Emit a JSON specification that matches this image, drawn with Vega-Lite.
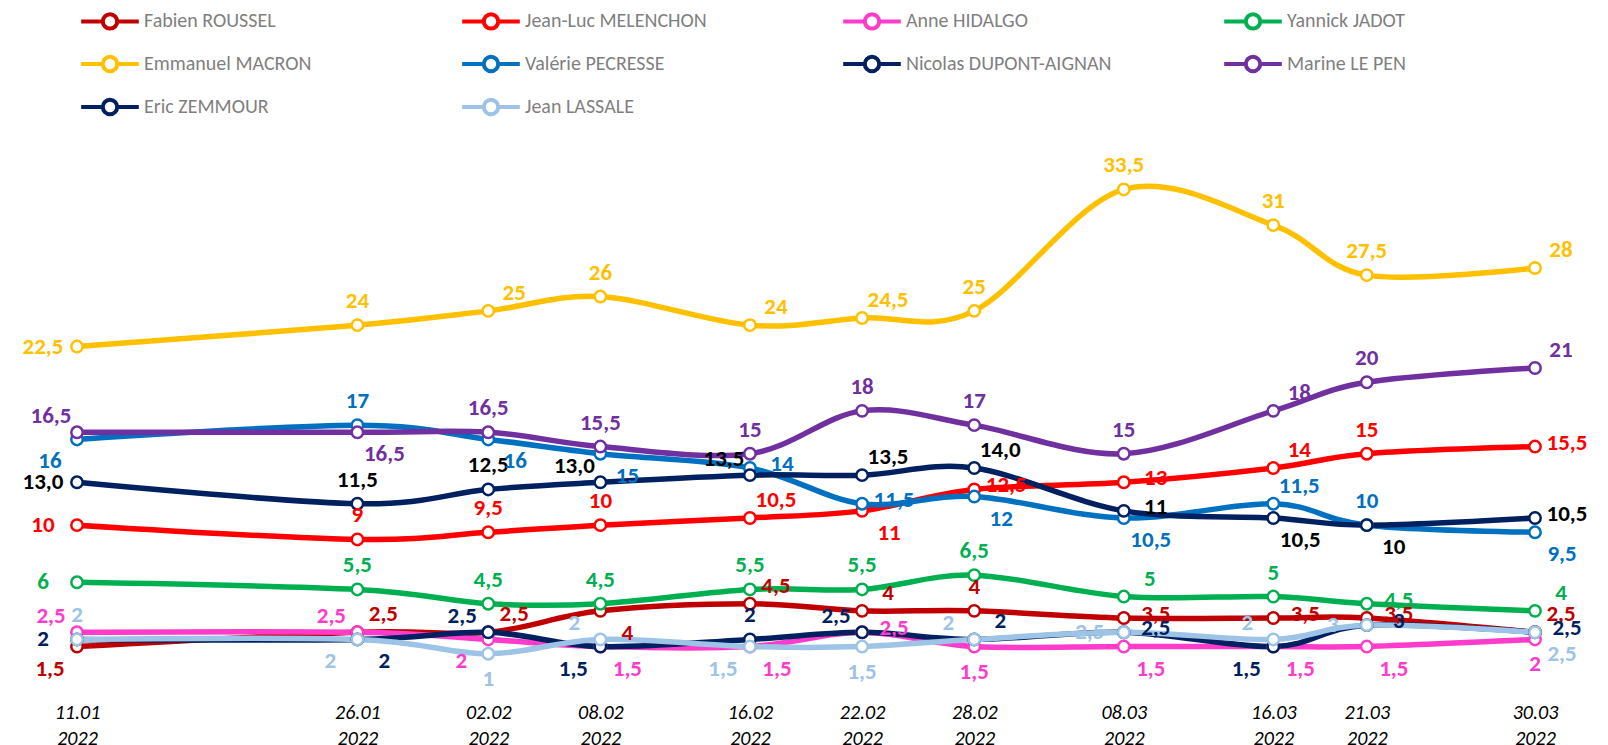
{
  "$schema": "https://vega.github.io/schema/vega-lite/v6.json",
  "width": 1458,
  "height": 500,
  "autosize": "none",
  "padding": {"left": 77, "top": 168, "right": 73, "bottom": 77},
  "background": "white",
  "config": {"view": {"stroke": null}, "font": "Carlito, Lato", "text": {"font": "Carlito, Lato"}},
  "data": {
    "format": {"parse": {"d": "utc:'%Y-%m-%d'"}},
    "values": [
      {"c":"Fabien ROUSSEL","d":"2022-01-11","v":1.5,"t":"1,5"},
      {"c":"Fabien ROUSSEL","d":"2022-01-26","v":2.5,"t":"2,5"},
      {"c":"Fabien ROUSSEL","d":"2022-02-02","v":2.5,"t":"2,5"},
      {"c":"Fabien ROUSSEL","d":"2022-02-08","v":4,"t":"4"},
      {"c":"Fabien ROUSSEL","d":"2022-02-16","v":4.5,"t":"4,5"},
      {"c":"Fabien ROUSSEL","d":"2022-02-22","v":4,"t":"4"},
      {"c":"Fabien ROUSSEL","d":"2022-02-28","v":4,"t":"4"},
      {"c":"Fabien ROUSSEL","d":"2022-03-08","v":3.5,"t":"3,5"},
      {"c":"Fabien ROUSSEL","d":"2022-03-16","v":3.5,"t":"3,5"},
      {"c":"Fabien ROUSSEL","d":"2022-03-21","v":3.5,"t":"3,5"},
      {"c":"Fabien ROUSSEL","d":"2022-03-30","v":2.5,"t":"2,5"},
      {"c":"Jean-Luc MELENCHON","d":"2022-01-11","v":10,"t":"10"},
      {"c":"Jean-Luc MELENCHON","d":"2022-01-26","v":9,"t":"9"},
      {"c":"Jean-Luc MELENCHON","d":"2022-02-02","v":9.5,"t":"9,5"},
      {"c":"Jean-Luc MELENCHON","d":"2022-02-08","v":10,"t":"10"},
      {"c":"Jean-Luc MELENCHON","d":"2022-02-16","v":10.5,"t":"10,5"},
      {"c":"Jean-Luc MELENCHON","d":"2022-02-22","v":11,"t":"11"},
      {"c":"Jean-Luc MELENCHON","d":"2022-02-28","v":12.5,"t":"12,5"},
      {"c":"Jean-Luc MELENCHON","d":"2022-03-08","v":13,"t":"13"},
      {"c":"Jean-Luc MELENCHON","d":"2022-03-16","v":14,"t":"14"},
      {"c":"Jean-Luc MELENCHON","d":"2022-03-21","v":15,"t":"15"},
      {"c":"Jean-Luc MELENCHON","d":"2022-03-30","v":15.5,"t":"15,5"},
      {"c":"Anne HIDALGO","d":"2022-01-11","v":2.5,"t":"2,5"},
      {"c":"Anne HIDALGO","d":"2022-01-26","v":2.5,"t":"2,5"},
      {"c":"Anne HIDALGO","d":"2022-02-02","v":2,"t":"2"},
      {"c":"Anne HIDALGO","d":"2022-02-08","v":1.5,"t":"1,5"},
      {"c":"Anne HIDALGO","d":"2022-02-16","v":1.5,"t":"1,5"},
      {"c":"Anne HIDALGO","d":"2022-02-22","v":2.5,"t":"2,5"},
      {"c":"Anne HIDALGO","d":"2022-02-28","v":1.5,"t":"1,5"},
      {"c":"Anne HIDALGO","d":"2022-03-08","v":1.5,"t":"1,5"},
      {"c":"Anne HIDALGO","d":"2022-03-16","v":1.5,"t":"1,5"},
      {"c":"Anne HIDALGO","d":"2022-03-21","v":1.5,"t":"1,5"},
      {"c":"Anne HIDALGO","d":"2022-03-30","v":2,"t":"2"},
      {"c":"Yannick JADOT","d":"2022-01-11","v":6,"t":"6"},
      {"c":"Yannick JADOT","d":"2022-01-26","v":5.5,"t":"5,5"},
      {"c":"Yannick JADOT","d":"2022-02-02","v":4.5,"t":"4,5"},
      {"c":"Yannick JADOT","d":"2022-02-08","v":4.5,"t":"4,5"},
      {"c":"Yannick JADOT","d":"2022-02-16","v":5.5,"t":"5,5"},
      {"c":"Yannick JADOT","d":"2022-02-22","v":5.5,"t":"5,5"},
      {"c":"Yannick JADOT","d":"2022-02-28","v":6.5,"t":"6,5"},
      {"c":"Yannick JADOT","d":"2022-03-08","v":5,"t":"5"},
      {"c":"Yannick JADOT","d":"2022-03-16","v":5,"t":"5"},
      {"c":"Yannick JADOT","d":"2022-03-21","v":4.5,"t":"4,5"},
      {"c":"Yannick JADOT","d":"2022-03-30","v":4,"t":"4"},
      {"c":"Emmanuel MACRON","d":"2022-01-11","v":22.5,"t":"22,5"},
      {"c":"Emmanuel MACRON","d":"2022-01-26","v":24,"t":"24"},
      {"c":"Emmanuel MACRON","d":"2022-02-02","v":25,"t":"25"},
      {"c":"Emmanuel MACRON","d":"2022-02-08","v":26,"t":"26"},
      {"c":"Emmanuel MACRON","d":"2022-02-16","v":24,"t":"24"},
      {"c":"Emmanuel MACRON","d":"2022-02-22","v":24.5,"t":"24,5"},
      {"c":"Emmanuel MACRON","d":"2022-02-28","v":25,"t":"25"},
      {"c":"Emmanuel MACRON","d":"2022-03-08","v":33.5,"t":"33,5"},
      {"c":"Emmanuel MACRON","d":"2022-03-16","v":31,"t":"31"},
      {"c":"Emmanuel MACRON","d":"2022-03-21","v":27.5,"t":"27,5"},
      {"c":"Emmanuel MACRON","d":"2022-03-30","v":28,"t":"28"},
      {"c":"Valérie PECRESSE","d":"2022-01-11","v":16,"t":"16"},
      {"c":"Valérie PECRESSE","d":"2022-01-26","v":17,"t":"17"},
      {"c":"Valérie PECRESSE","d":"2022-02-02","v":16,"t":"16"},
      {"c":"Valérie PECRESSE","d":"2022-02-08","v":15,"t":"15"},
      {"c":"Valérie PECRESSE","d":"2022-02-16","v":14,"t":"14"},
      {"c":"Valérie PECRESSE","d":"2022-02-22","v":11.5,"t":"11,5"},
      {"c":"Valérie PECRESSE","d":"2022-02-28","v":12,"t":"12"},
      {"c":"Valérie PECRESSE","d":"2022-03-08","v":10.5,"t":"10,5"},
      {"c":"Valérie PECRESSE","d":"2022-03-16","v":11.5,"t":"11,5"},
      {"c":"Valérie PECRESSE","d":"2022-03-21","v":10,"t":"10"},
      {"c":"Valérie PECRESSE","d":"2022-03-30","v":9.5,"t":"9,5"},
      {"c":"Nicolas DUPONT-AIGNAN","d":"2022-01-11","v":2,"t":"2"},
      {"c":"Nicolas DUPONT-AIGNAN","d":"2022-01-26","v":2,"t":"2"},
      {"c":"Nicolas DUPONT-AIGNAN","d":"2022-02-02","v":2.5,"t":"2,5"},
      {"c":"Nicolas DUPONT-AIGNAN","d":"2022-02-08","v":1.5,"t":"1,5"},
      {"c":"Nicolas DUPONT-AIGNAN","d":"2022-02-16","v":2,"t":"2"},
      {"c":"Nicolas DUPONT-AIGNAN","d":"2022-02-22","v":2.5,"t":"2,5"},
      {"c":"Nicolas DUPONT-AIGNAN","d":"2022-02-28","v":2,"t":"2"},
      {"c":"Nicolas DUPONT-AIGNAN","d":"2022-03-08","v":2.5,"t":"2,5"},
      {"c":"Nicolas DUPONT-AIGNAN","d":"2022-03-16","v":1.5,"t":"1,5"},
      {"c":"Nicolas DUPONT-AIGNAN","d":"2022-03-21","v":3,"t":"3"},
      {"c":"Nicolas DUPONT-AIGNAN","d":"2022-03-30","v":2.5,"t":"2,5"},
      {"c":"Marine LE PEN","d":"2022-01-11","v":16.5,"t":"16,5"},
      {"c":"Marine LE PEN","d":"2022-01-26","v":16.5,"t":"16,5"},
      {"c":"Marine LE PEN","d":"2022-02-02","v":16.5,"t":"16,5"},
      {"c":"Marine LE PEN","d":"2022-02-08","v":15.5,"t":"15,5"},
      {"c":"Marine LE PEN","d":"2022-02-16","v":15,"t":"15"},
      {"c":"Marine LE PEN","d":"2022-02-22","v":18,"t":"18"},
      {"c":"Marine LE PEN","d":"2022-02-28","v":17,"t":"17"},
      {"c":"Marine LE PEN","d":"2022-03-08","v":15,"t":"15"},
      {"c":"Marine LE PEN","d":"2022-03-16","v":18,"t":"18"},
      {"c":"Marine LE PEN","d":"2022-03-21","v":20,"t":"20"},
      {"c":"Marine LE PEN","d":"2022-03-30","v":21,"t":"21"},
      {"c":"Eric ZEMMOUR","d":"2022-01-11","v":13,"t":"13,0"},
      {"c":"Eric ZEMMOUR","d":"2022-01-26","v":11.5,"t":"11,5"},
      {"c":"Eric ZEMMOUR","d":"2022-02-02","v":12.5,"t":"12,5"},
      {"c":"Eric ZEMMOUR","d":"2022-02-08","v":13,"t":"13,0"},
      {"c":"Eric ZEMMOUR","d":"2022-02-16","v":13.5,"t":"13,5"},
      {"c":"Eric ZEMMOUR","d":"2022-02-22","v":13.5,"t":"13,5"},
      {"c":"Eric ZEMMOUR","d":"2022-02-28","v":14,"t":"14,0"},
      {"c":"Eric ZEMMOUR","d":"2022-03-08","v":11,"t":"11"},
      {"c":"Eric ZEMMOUR","d":"2022-03-16","v":10.5,"t":"10,5"},
      {"c":"Eric ZEMMOUR","d":"2022-03-21","v":10,"t":"10"},
      {"c":"Eric ZEMMOUR","d":"2022-03-30","v":10.5,"t":"10,5"},
      {"c":"Jean LASSALE","d":"2022-01-11","v":2,"t":"2"},
      {"c":"Jean LASSALE","d":"2022-01-26","v":2,"t":"2"},
      {"c":"Jean LASSALE","d":"2022-02-02","v":1,"t":"1"},
      {"c":"Jean LASSALE","d":"2022-02-08","v":2,"t":"2"},
      {"c":"Jean LASSALE","d":"2022-02-16","v":1.5,"t":"1,5"},
      {"c":"Jean LASSALE","d":"2022-02-22","v":1.5,"t":"1,5"},
      {"c":"Jean LASSALE","d":"2022-02-28","v":2,"t":"2"},
      {"c":"Jean LASSALE","d":"2022-03-08","v":2.5,"t":"2,5"},
      {"c":"Jean LASSALE","d":"2022-03-16","v":2,"t":"2"},
      {"c":"Jean LASSALE","d":"2022-03-21","v":3,"t":"3"},
      {"c":"Jean LASSALE","d":"2022-03-30","v":2.5,"t":"2,5"}
    ]
  },
  "encoding": {
    "x": {
      "field": "d", "type": "temporal",
      "scale": {"type": "utc", "domain": [{"year": 2022, "month": 1, "date": 11, "utc": true}, {"year": 2022, "month": 3, "date": 30, "utc": true}]},
      "axis": {
        "title": null,
        "values": [
          {"year": 2022, "month": 1, "date": 11, "utc": true},
          {"year": 2022, "month": 1, "date": 26, "utc": true},
          {"year": 2022, "month": 2, "date": 2, "utc": true},
          {"year": 2022, "month": 2, "date": 8, "utc": true},
          {"year": 2022, "month": 2, "date": 16, "utc": true},
          {"year": 2022, "month": 2, "date": 22, "utc": true},
          {"year": 2022, "month": 2, "date": 28, "utc": true},
          {"year": 2022, "month": 3, "date": 8, "utc": true},
          {"year": 2022, "month": 3, "date": 16, "utc": true},
          {"year": 2022, "month": 3, "date": 21, "utc": true},
          {"year": 2022, "month": 3, "date": 30, "utc": true}
        ],
        "labelExpr": "[utcFormat(datum.value, '%d.%m'), utcFormat(datum.value, '%Y')]",
        "domain": false, "ticks": false, "grid": false,
        "labelFont": "Carlito, Lato", "labelFontSize": 20, "labelFontStyle": "italic",
        "labelColor": "#000000", "labelPadding": 34, "labelLineHeight": 26,
        "labelOverlap": false, "labelBound": false, "labelFlush": false
      }
    },
    "y": {"field": "v", "type": "quantitative", "scale": {"domain": [0, 35], "nice": false}, "axis": null}
  },
  "layer": [
    {
      "mark": {"type": "line", "interpolate": "cardinal", "strokeWidth": 5.5},
      "encoding": {
        "color": {
          "field": "c", "type": "nominal",
          "scale": {
            "domain": ["Fabien ROUSSEL", "Jean-Luc MELENCHON", "Anne HIDALGO", "Yannick JADOT", "Emmanuel MACRON", "Valérie PECRESSE", "Nicolas DUPONT-AIGNAN", "Marine LE PEN", "Eric ZEMMOUR", "Jean LASSALE"],
            "range": ["#C00000", "#FF0000", "#FF3BCB", "#00B050", "#FFC000", "#0070C0", "#002060", "#7030A0", "#002060", "#9DC3E6"]
          },
          "legend": {
            "title": null, "orient": "none", "legendX": 13, "legendY": -167,
            "direction": "horizontal", "columns": 4, "gridAlign": "all",
            "columnPadding": 104, "rowPadding": 7,
            "symbolType": "M-1.6,0H-0.4M0.4,0H1.6M0.4,0A0.4,0.4,0,1,1,-0.4,0A0.4,0.4,0,1,1,0.4,0Z",
            "symbolSize": 1296, "symbolStrokeWidth": 4, "symbolFillColor": "white", "symbolOpacity": 1,
            "labelFont": "Carlito, Lato", "labelFontSize": 20, "labelColor": "#7F7F7F", "labelOffset": 14, "labelLimit": 400
          }
        }
      }
    },
    {
      "mark": {"type": "point", "filled": false, "fill": "white", "size": 130, "strokeWidth": 2.5, "opacity": 1},
      "encoding": {"color": {"field": "c", "type": "nominal"}}
    },
    {
      "encoding": {
        "text": {"field": "t"},
        "fill": {
          "condition": [
            {"test": "datum.c === 'Fabien ROUSSEL'", "value": "#C00000"},
            {"test": "datum.c === 'Jean-Luc MELENCHON'", "value": "#FF0000"},
            {"test": "datum.c === 'Anne HIDALGO'", "value": "#FF3BCB"},
            {"test": "datum.c === 'Yannick JADOT'", "value": "#00B050"},
            {"test": "datum.c === 'Emmanuel MACRON'", "value": "#FFC000"},
            {"test": "datum.c === 'Valérie PECRESSE'", "value": "#0070C0"},
            {"test": "datum.c === 'Nicolas DUPONT-AIGNAN'", "value": "#002060"},
            {"test": "datum.c === 'Marine LE PEN'", "value": "#7030A0"},
            {"test": "datum.c === 'Jean LASSALE'", "value": "#9DC3E6"}
          ],
          "value": "#000000"
        }
      },
      "layer": [
        {
          "transform": [{"filter": "indexof(['MACRON2601','MACRON0802','MACRON2802','MACRON0803','MACRON1603','MACRON2103','PEN0202','PEN0802','PEN1602','PEN2202','PEN2802','PEN0803','PEN2103','PECRESSE2601','PECRESSE2103','ZEMMOUR2601','ZEMMOUR0202','MELENCHON2601','MELENCHON0202','MELENCHON0802','MELENCHON2103','JADOT2601','JADOT0202','JADOT0802','JADOT1602','JADOT2202','JADOT2802','JADOT1603','ROUSSEL2802','DUPONT-AIGNAN1602','LASSALE1101'], peek(split(datum.c, ' ')) + utcFormat(datum.d, '%d%m')) >= 0"}],
          "mark": {"type": "text", "fontWeight": "bold", "fontSize": 23, "dx": 0, "dy": -24, "align": "center", "baseline": "middle"}
        },
        {
          "transform": [{"filter": "indexof(['MACRON0202','MACRON1602','MACRON2202','MACRON3003','PEN1603','PEN3003','PECRESSE1603','ZEMMOUR2202','ZEMMOUR2802','MELENCHON1602','MELENCHON1603','ROUSSEL2601','ROUSSEL0202','ROUSSEL1602','ROUSSEL2202','ROUSSEL3003','DUPONT-AIGNAN2802','JADOT3003','JADOT0803'], peek(split(datum.c, ' ')) + utcFormat(datum.d, '%d%m')) >= 0"}],
          "mark": {"type": "text", "fontWeight": "bold", "fontSize": 23, "dx": 26, "dy": -18, "align": "center", "baseline": "middle"}
        },
        {
          "transform": [{"filter": "indexof(['PEN1101','ZEMMOUR0802','ZEMMOUR1602','HIDALGO1101','HIDALGO2601','DUPONT-AIGNAN0202','DUPONT-AIGNAN2202','LASSALE0802','LASSALE2802','LASSALE1603'], peek(split(datum.c, ' ')) + utcFormat(datum.d, '%d%m')) >= 0"}],
          "mark": {"type": "text", "fontWeight": "bold", "fontSize": 23, "dx": -26, "dy": -16, "align": "center", "baseline": "middle"}
        },
        {
          "transform": [{"filter": "indexof(['PECRESSE1602','PECRESSE2202','ZEMMOUR0803','ZEMMOUR3003','MELENCHON2802','MELENCHON0803','MELENCHON3003','JADOT2103','ROUSSEL0803','ROUSSEL1603','ROUSSEL2103','HIDALGO2202','DUPONT-AIGNAN0803','DUPONT-AIGNAN3003','DUPONT-AIGNAN2103'], peek(split(datum.c, ' ')) + utcFormat(datum.d, '%d%m')) >= 0"}],
          "mark": {"type": "text", "fontWeight": "bold", "fontSize": 23, "dx": 32, "dy": -4, "align": "center", "baseline": "middle"}
        },
        {
          "transform": [{"filter": "indexof(['MACRON1101','MELENCHON1101','JADOT1101','DUPONT-AIGNAN1101','LASSALE0803','LASSALE2103','ZEMMOUR1101'], peek(split(datum.c, ' ')) + utcFormat(datum.d, '%d%m')) >= 0"}],
          "mark": {"type": "text", "fontWeight": "bold", "fontSize": 23, "dx": -34, "dy": 0, "align": "center", "baseline": "middle"}
        },
        {
          "transform": [{"filter": "indexof(['HIDALGO2802','HIDALGO3003','LASSALE0202','LASSALE2202'], peek(split(datum.c, ' ')) + utcFormat(datum.d, '%d%m')) >= 0"}],
          "mark": {"type": "text", "fontWeight": "bold", "fontSize": 23, "dx": 0, "dy": 25, "align": "center", "baseline": "middle"}
        },
        {
          "transform": [{"filter": "indexof(['PEN2601','PECRESSE0202','PECRESSE0802','PECRESSE2802','PECRESSE0803','PECRESSE3003','ZEMMOUR1603','ZEMMOUR2103','MELENCHON2202','ROUSSEL0802','HIDALGO0802','HIDALGO1602','HIDALGO0803','HIDALGO1603','HIDALGO2103','DUPONT-AIGNAN2601','LASSALE3003'], peek(split(datum.c, ' ')) + utcFormat(datum.d, '%d%m')) >= 0"}],
          "mark": {"type": "text", "fontWeight": "bold", "fontSize": 23, "dx": 27, "dy": 22, "align": "center", "baseline": "middle"}
        },
        {
          "transform": [{"filter": "indexof(['PECRESSE1101','ROUSSEL1101','HIDALGO0202','DUPONT-AIGNAN0802','DUPONT-AIGNAN1603','LASSALE2601','LASSALE1602'], peek(split(datum.c, ' ')) + utcFormat(datum.d, '%d%m')) >= 0"}],
          "mark": {"type": "text", "fontWeight": "bold", "fontSize": 23, "dx": -27, "dy": 22, "align": "center", "baseline": "middle"}
        }
      ]
    }
  ]
}
